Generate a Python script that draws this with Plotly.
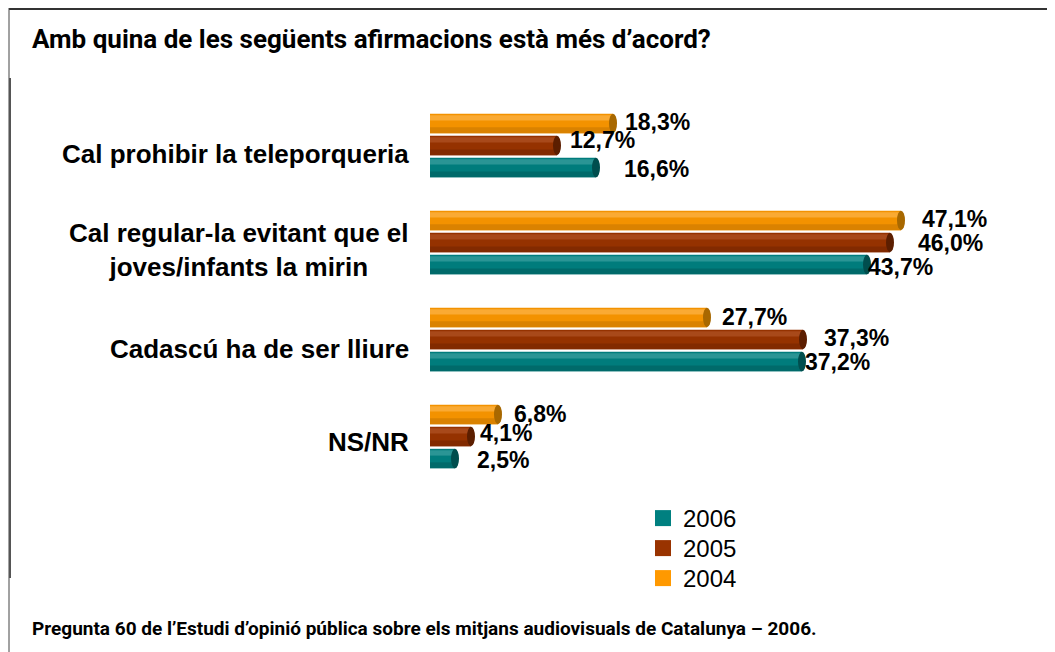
import plotly.graph_objects as go

# ---------------- data ----------------
categories = [
    "Cal prohibir la teleporqueria",
    "Cal regular-la evitant que el<br>joves/infants la mirin",
    "Cadascú ha de ser lliure",
    "NS/NR",
]
years = ["2004", "2005", "2006"]
values_2004 = [18.3, 47.1, 27.7, 6.8]
values_2005 = [12.7, 46.0, 37.3, 4.1]
values_2006 = [16.6, 43.7, 37.2, 2.5]
title_text = "Amb quina de les següents afirmacions està més d’acord?"
note_text = "Pregunta 60 de l’Estudi d’opinió pública sobre els mitjans audiovisuals de Catalunya – 2006."

series = {"2004": values_2004, "2005": values_2005, "2006": values_2006}

# ---------------- style ----------------
OFF = 8  # page body margin
W, H = 1055 - OFF, 652 - OFF
ML, MR, MT, MB = 430 - OFF, 125, 97 - OFF, 167
PW, PH = W - ML - MR, H - MT - MB

main_col = {"2004": "#F39200", "2005": "#953200", "2006": "#007C7C"}
light_col = {"2004": "#FAAA33", "2005": "#A8491A", "2006": "#2A9595"}
dark_col = {"2004": "#DA8200", "2005": "#822A00", "2006": "#006A6A"}
cap_col = {"2004": "#A86800", "2005": "#5C1E00", "2006": "#004E4E"}
legend_col = {"2004": "#FF9900", "2005": "#993300", "2006": "#008080"}
center = {"2004": -0.227, "2005": 0.0, "2006": 0.227}
BW = 0.2

# label offsets (pixels) per series, per category
label_dx = {"2004": [10, 19, 13, 14], "2005": [11, 26, 19, 7], "2006": [26, -1, 1, 20]}
label_dy = {"2004": [-1, -1, 0, 0], "2005": [-6, 0, -2, -4], "2006": [1, 2, 0, 1]}
cat_dy = [8, 7, 9, 5]

LBL = "Liberation Sans, Arial, sans-serif"
NARROW = "Roboto, Liberation Sans, Arial, sans-serif"


def px_x(px):
    return (px - OFF - ML) / PW


def px_y(py):
    return (H - MB - (py - OFF)) / PH


fig = go.Figure()
idx = list(range(len(categories)))

for yr in years:
    vals = series[yr]
    c = center[yr]
    fig.add_trace(go.Bar(
        x=vals, y=idx, orientation="h", width=BW, offset=c - BW / 2,
        marker=dict(color=main_col[yr], line=dict(width=0)),
        showlegend=False, hoverinfo="x", name=yr,
    ))
    # highlight band (top)
    fig.add_trace(go.Bar(
        x=vals, y=idx, orientation="h", width=0.055, offset=c - BW / 2 + 0.015,
        marker=dict(color=light_col[yr], line=dict(width=0)),
        showlegend=False, hoverinfo="skip",
    ))
    # shadow band (bottom)
    fig.add_trace(go.Bar(
        x=vals, y=idx, orientation="h", width=0.06, offset=c + BW / 2 - 0.06,
        marker=dict(color=dark_col[yr], line=dict(width=0)),
        showlegend=False, hoverinfo="skip",
    ))

# legend entries, one legend per year so the spacing can match
legend_names = {"2006": "legend", "2005": "legend2", "2004": "legend3"}
legend_top_px = {"2006": 496, "2005": 526, "2004": 556}
for yr in ["2006", "2005", "2004"]:
    fig.add_trace(go.Scatter(
        x=[None], y=[None], mode="markers", name=yr, legend=legend_names[yr],
        marker=dict(symbol="square", size=16, color=legend_col[yr]),
    ))

shapes = []
annotations = []
for yr in years:
    vals = series[yr]
    c = center[yr]
    for i, v in enumerate(vals):
        shapes.append(dict(
            type="circle", xref="x", yref="y",
            x0=v - 0.4, x1=v + 0.4, y0=i + c - BW / 2, y1=i + c + BW / 2,
            fillcolor=cap_col[yr], line=dict(width=0), layer="above",
        ))
        annotations.append(dict(
            x=v, y=i + c, xref="x", yref="y", xanchor="left", yanchor="middle",
            xshift=label_dx[yr][i], yshift=-label_dy[yr][i],
            text=f"{v:.1f}%".replace(".", ","), showarrow=False,
            font=dict(family=LBL, size=23, color="#000000", weight="bold"),
        ))

for i, cat in enumerate(categories):
    annotations.append(dict(
        x=0, y=i, xref="paper", yref="y", xanchor="right", yanchor="middle",
        xshift=-19, yshift=-cat_dy[i], align="center", text=cat, showarrow=False,
        font=dict(family=LBL, size=26, color="#000000", weight="bold"),
    ))

annotations.append(dict(
    x=px_x(30), y=px_y(39), xref="paper", yref="paper", xanchor="left", yanchor="middle",
    text=title_text, showarrow=False,
    font=dict(family=NARROW, size=26, color="#000000", weight="bold"),
))
annotations.append(dict(
    x=px_x(30), y=px_y(628), xref="paper", yref="paper", xanchor="left", yanchor="middle",
    text=note_text, showarrow=False,
    font=dict(family=NARROW, size=19, color="#000000", weight="bold"),
))

# frame lines
shapes += [
    dict(type="line", xref="paper", yref="paper", x0=px_x(9), x1=px_x(1060),
         y0=px_y(9), y1=px_y(9), line=dict(color="#333333", width=2), layer="above"),
    dict(type="line", xref="paper", yref="paper", x0=px_x(9), x1=px_x(9),
         y0=px_y(8), y1=px_y(660), line=dict(color="#444444", width=1), layer="above"),
    dict(type="line", xref="paper", yref="paper", x0=px_x(10), x1=px_x(10),
         y0=px_y(78), y1=px_y(578), line=dict(color="#555555", width=2), layer="above"),
]

legend_common = dict(
    xref="paper", yref="paper", xanchor="left", yanchor="top",
    font=dict(family="Liberation Sans, Arial, sans-serif", size=24, color="#000000"),
    bgcolor="rgba(0,0,0,0)", itemwidth=30,
)

fig.update_layout(
    width=W, height=H,
    margin=dict(l=ML, r=MR, t=MT, b=MB, pad=0),
    paper_bgcolor="#FFFFFF", plot_bgcolor="#FFFFFF",
    barmode="overlay",
    xaxis=dict(range=[0, 50], visible=False, fixedrange=True),
    yaxis=dict(range=[3.5, -0.5], visible=False, fixedrange=True),
    shapes=shapes, annotations=annotations,
    showlegend=True,
    legend=dict(x=px_x(643), y=px_y(legend_top_px["2006"]), **legend_common),
    legend2=dict(x=px_x(643), y=px_y(legend_top_px["2005"]), **legend_common),
    legend3=dict(x=px_x(643), y=px_y(legend_top_px["2004"]), **legend_common),
)

fig.write_html("out.html")
